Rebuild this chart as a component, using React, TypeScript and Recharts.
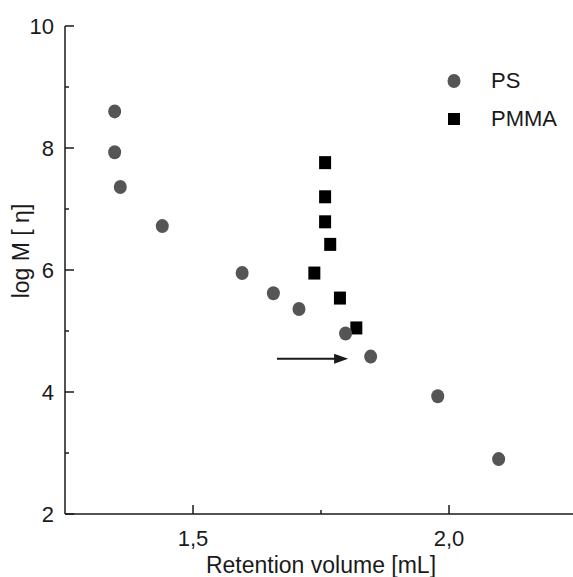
import React from "react";
import {
  ScatterChart,
  Scatter,
  XAxis,
  YAxis,
  ReferenceLine,
  Legend,
} from "recharts";

// PS points
const psVolume = [1.347, 1.347, 1.358, 1.44, 1.596, 1.657, 1.707, 1.798, 1.847, 1.978, 2.097];
const psLogM = [8.6, 7.93, 7.36, 6.72, 5.95, 5.62, 5.36, 4.96, 4.58, 3.93, 2.9];

// PMMA points
const pmmaVolume = [1.758, 1.758, 1.758, 1.768, 1.737, 1.787, 1.819];
const pmmaLogM = [7.76, 7.2, 6.79, 6.42, 5.95, 5.54, 5.05];

const xTicks = [1.5, 1.75, 2.0];
const yTicks = [2, 3, 4, 5, 6, 7, 8, 9, 10];
const arrowFrom = { x: 1.664, y: 4.544 };
const arrowTo = { x: 1.803, y: 4.544 };

const psData = psVolume.map((x, i) => ({ x, y: psLogM[i] }));
const pmmaData = pmmaVolume.map((x, i) => ({ x, y: pmmaLogM[i] }));

const FONT = "'Liberation Sans', Arial, sans-serif";
const INK = "#1a1a1a";
const PS_FILL = "#555";

const Circle = ({ cx, cy }: any) => <ellipse cx={cx} cy={cy} rx={6.5} ry={7} fill={PS_FILL} />;
const Square = ({ cx, cy }: any) => (
  <rect x={cx - 6} y={cy - 6.5} width={12} height={13} fill="#000" />
);

const YTick = ({ x, y, payload }: any) => {
  const major = payload.value % 2 === 0;
  return (
    <g>
      <line x1={x} x2={x + (major ? 9 : 4)} y1={y} y2={y} stroke={INK} strokeWidth={1.5} />
      {major && (
        <text x={x - 11} y={y + 8} textAnchor="end" fontSize={22} fontFamily={FONT} fill={INK}>
          {payload.value}
        </text>
      )}
    </g>
  );
};

const XTick = ({ x, y, payload }: any) => {
  const major = Math.abs((payload.value * 2) % 1) < 1e-6;
  return (
    <g>
      <line x1={x} x2={x} y1={y} y2={y - (major ? 9 : 4)} stroke={INK} strokeWidth={1.5} />
      {major && (
        <text x={x} y={y + 32} textAnchor="middle" fontSize={22} fontFamily={FONT} fill={INK}>
          {payload.value.toFixed(1).replace(".", ",")}
        </text>
      )}
    </g>
  );
};

const Arrow = (props: any) => {
  const { x1, y1, x2, y2 } = props;
  return (
    <g>
      <line x1={x1} y1={y1} x2={x2 - 10} y2={y2} stroke={INK} strokeWidth={2} />
      <polygon points={`${x2},${y2} ${x2 - 14},${y2 - 5} ${x2 - 14},${y2 + 5}`} fill={INK} />
    </g>
  );
};

const legendOrder = ["PS", "PMMA"];

const LegendContent = () => (
  <div style={{ fontFamily: FONT, fontSize: 22, color: INK }}>
    {legendOrder.map((name) => (
      <div key={name} style={{ display: "flex", alignItems: "center", height: 38 }}>
        <svg width={28} height={20} style={{ marginRight: 23 }}>
          {name === "PS" ? (
            <ellipse cx={14} cy={10} rx={6.5} ry={7} fill={PS_FILL} />
          ) : (
            <rect x={8} y={4} width={12} height={12} fill="#000" />
          )}
        </svg>
        <span>{name}</span>
      </div>
    ))}
  </div>
);

export default function App() {
  return (
    <div
      style={{
        position: "absolute",
        left: 0,
        top: 0,
        width: 573,
        height: 577,
        overflow: "hidden",
        background: "#fff",
      }}
    >
      <ScatterChart width={580} height={577} margin={{ top: 26, right: 3, bottom: 0, left: 0 }}>
        <XAxis
          xAxisId="top"
          orientation="top"
          type="number"
          domain={[1.25, 2.25]}
          height={0}
          tick={false}
          tickLine={false}
          axisLine={{ stroke: INK, strokeWidth: 1.5 }}
        />
        <XAxis
          dataKey="x"
          type="number"
          domain={[1.25, 2.25]}
          ticks={xTicks}
          allowDataOverflow
          height={63}
          tickSize={0}
          tickMargin={0}
          tickLine={false}
          tick={<XTick />}
          axisLine={{ stroke: INK, strokeWidth: 1.5 }}
          label={{
            content: ({ viewBox }: any) => (
              <text
                x={viewBox.x + viewBox.width / 2}
                y={viewBox.y + 59}
                textAnchor="middle"
                fontSize={23}
                fontFamily={FONT}
                fill={INK}
              >
                Retention volume [mL]
              </text>
            ),
          }}
        />
        <YAxis
          dataKey="y"
          type="number"
          domain={[2, 10]}
          ticks={yTicks}
          width={65}
          tickSize={0}
          tickMargin={0}
          tickLine={false}
          tick={<YTick />}
          axisLine={{ stroke: INK, strokeWidth: 1.5 }}
          label={{
            content: ({ viewBox }: any) => {
              const cy = viewBox.y + viewBox.height / 2 - 19;
              return (
                <text
                  x={29}
                  y={cy}
                  transform={`rotate(-90, 29, ${cy})`}
                  textAnchor="middle"
                  fontSize={23}
                  fontFamily={FONT}
                  fill={INK}
                >
                  log M [ η]
                </text>
              );
            },
          }}
        />
        <Legend
          layout="horizontal"
          verticalAlign="middle"
          align="center"
          content={<LegendContent />}
          wrapperStyle={{ left: 440, top: 62, width: 130 }}
        />
        <Scatter name="PMMA" data={pmmaData} shape={<Square />} isAnimationActive={false} />
        <Scatter name="PS" data={psData} shape={<Circle />} isAnimationActive={false} />
        <ReferenceLine segment={[arrowFrom, arrowTo]} shape={<Arrow />} />
      </ScatterChart>
    </div>
  );
}
